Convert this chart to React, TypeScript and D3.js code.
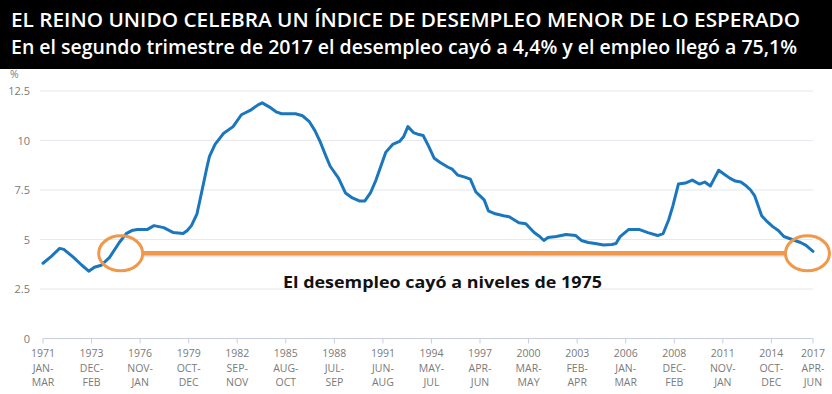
import React from "react";
import * as d3 from "d3";

// Month index counted from the Jan-Mar 1971 rolling quarter
const months = [0, 6, 12, 15, 22, 28, 33, 37, 42, 48, 55, 60, 64, 68, 75, 80, 87, 94, 101, 104, 107, 111, 115, 118, 120, 124, 130, 137, 143, 150, 155, 158, 163, 168, 172, 182, 187, 192, 196, 200, 204, 207, 213, 218, 223, 228, 232, 236, 240, 243, 247, 252, 257, 260, 263, 267, 271, 274, 278, 282, 286, 292, 295, 299, 304, 308, 312, 315, 318, 321, 326, 332, 336, 343, 348, 354, 358, 361, 364, 370, 377, 384, 388, 393, 398, 404, 410, 413, 416, 422, 430, 436, 443, 447, 451, 454, 458, 463, 468, 473, 477, 481, 484, 487, 491, 495, 499, 503, 507, 510, 513, 518, 522, 526, 530, 534, 538, 542, 546, 550, 555];
const rates = [3.8, 4.15, 4.55, 4.5, 4.1, 3.7, 3.4, 3.6, 3.7, 4.1, 4.85, 5.3, 5.45, 5.5, 5.5, 5.7, 5.6, 5.35, 5.3, 5.45, 5.7, 6.3, 7.6, 8.6, 9.2, 9.8, 10.35, 10.7, 11.3, 11.55, 11.8, 11.9, 11.7, 11.45, 11.35, 11.35, 11.25, 10.95, 10.5, 9.9, 9.2, 8.7, 8.1, 7.35, 7.1, 6.95, 6.95, 7.35, 8.0, 8.6, 9.4, 9.8, 9.95, 10.2, 10.7, 10.4, 10.3, 10.25, 9.7, 9.1, 8.9, 8.65, 8.55, 8.25, 8.15, 8.05, 7.4, 7.2, 7.0, 6.45, 6.3, 6.2, 6.15, 5.85, 5.8, 5.35, 5.15, 4.95, 5.1, 5.15, 5.25, 5.2, 4.95, 4.85, 4.8, 4.72, 4.75, 4.8, 5.15, 5.5, 5.5, 5.35, 5.2, 5.3, 6.0, 6.7, 7.8, 7.85, 8.0, 7.8, 7.9, 7.7, 8.1, 8.5, 8.3, 8.1, 7.95, 7.9, 7.7, 7.5, 7.2, 6.2, 5.9, 5.65, 5.45, 5.15, 5.05, 4.95, 4.85, 4.7, 4.4];

const tickMonths = [0, 35, 70, 105, 140, 175, 210, 245, 280, 315, 350, 385, 420, 455, 490, 525, 555];
const tickYears = ["1971", "1973", "1976", "1979", "1982", "1985", "1988", "1991", "1994", "1997", "2000", "2003", "2006", "2008", "2011", "2014", "2017"];
const tickStart = ["JAN-", "DEC-", "NOV-", "OCT-", "SEP-", "AUG-", "JUL-", "JUN-", "MAY-", "APR-", "MAR-", "FEB-", "JAN-", "DEC-", "NOV-", "OCT-", "APR-"];
const tickEnd = ["MAR", "FEB", "JAN", "DEC", "NOV", "OCT", "SEP", "AUG", "JUL", "JUN", "MAY", "APR", "MAR", "FEB", "JAN", "DEC", "JUN"];

const yTicks = [0, 2.5, 5, 7.5, 10, 12.5];
const yTickLabels = ["0", "2.5", "5", "7.5", "10", "12.5"];

// Annotation: level reached again (1975 vs 2017)
const annotationLevel = 4.3;
const annotationMonths = [56, 551];

const title = "EL REINO UNIDO CELEBRA UN ÍNDICE DE DESEMPLEO MENOR DE LO ESPERADO";
const subtitle = "En el segundo trimestre de 2017 el desempleo cayó a 4,4% y el empleo llegó a 75,1%";
const annotationText = "El desempleo cayó a niveles de 1975";

export default function App() {
  const W = 832;
  const H = 394;
  const x = d3.scaleLinear().domain([0, 555]).range([43, 813]);
  const y = d3.scaleLinear().domain([0, 12.5]).range([338.5, 91]);
  const data = months.map((m, i) => ({ m, v: rates[i] }));
  const line = d3
    .line<{ m: number; v: number }>()
    .x((d) => x(d.m))
    .y((d) => y(d.v))
    .curve(d3.curveLinear);

  const font = "'Open Sans', 'Noto Sans', sans-serif";
  const axisColor = "#7a7a7a";
  const orange = "#F0984B";
  const ly = y(annotationLevel);
  const lx0 = x(annotationMonths[0]);
  const lx1 = x(annotationMonths[1]);
  const rx = 22;
  const ry = 17.5;

  return (
    <svg
      width={W}
      height={H}
      style={{ position: "absolute", left: 0, top: 0, background: "#fff" }}
    >
      <rect x={0} y={0} width={W} height={H} fill="#fff" />
      <rect x={0} y={0} width={W} height={69} fill="#000" />
      <text
        x={11}
        y={27}
        fill="#fff"
        fontFamily={font}
        fontWeight={600}
        fontSize={19.5}
        textLength={789}
        lengthAdjust="spacingAndGlyphs"
      >
        {title}
      </text>
      <text
        x={11}
        y={53.5}
        fill="#fff"
        fontFamily={font}
        fontWeight={600}
        fontSize={19}
        textLength={786}
        lengthAdjust="spacingAndGlyphs"
      >
        {subtitle}
      </text>

      {/* gridlines */}
      {yTicks.slice(1).map((t) => (
        <line
          key={"g" + t}
          x1={40}
          x2={813}
          y1={y(t)}
          y2={y(t)}
          stroke="#e6e7ef"
          strokeWidth={1}
        />
      ))}
      {/* zero axis */}
      <line x1={43} x2={813} y1={y(0)} y2={y(0)} stroke="#c9cde0" strokeWidth={1} />
      {tickMonths.map((m) => (
        <line
          key={"t" + m}
          x1={x(m)}
          x2={x(m)}
          y1={y(0)}
          y2={y(0) + 5}
          stroke="#c9cde0"
          strokeWidth={1}
        />
      ))}

      {/* y labels */}
      <text x={10} y={78} fill={axisColor} fontFamily={font} fontSize={10.5}>
        %
      </text>
      {yTicks.map((t, i) => (
        <text
          key={"y" + t}
          x={30}
          y={y(t) + 4}
          textAnchor="end"
          fill={axisColor}
          fontFamily={font}
          fontSize={11}
        >
          {yTickLabels[i]}
        </text>
      ))}

      {/* x labels */}
      {tickMonths.map((m, i) => (
        <g key={"x" + m} fill={axisColor} fontFamily={font} fontSize={10.5} textAnchor="middle">
          <text x={x(m)} y={357}>{tickYears[i]}</text>
          <text x={x(m)} y={371.5}>{tickStart[i]}</text>
          <text x={x(m)} y={386}>{tickEnd[i]}</text>
        </g>
      ))}

      {/* series */}
      <path
        d={line(data) || ""}
        fill="none"
        stroke="#1b77bd"
        strokeWidth={3}
        strokeLinejoin="round"
        strokeLinecap="round"
      />

      {/* annotation */}
      <line
        x1={lx0 + rx}
        x2={lx1 - rx}
        y1={ly + 2.5}
        y2={ly + 2.5}
        stroke="#d9d9d9"
        strokeWidth={3}
        opacity={0.6}
      />
      <line
        x1={lx0 + rx}
        x2={lx1 - rx}
        y1={ly}
        y2={ly}
        stroke={orange}
        strokeWidth={4.5}
      />
      <ellipse cx={lx0} cy={ly} rx={rx} ry={ry} fill="none" stroke={orange} strokeWidth={3} />
      <ellipse cx={lx1} cy={ly} rx={rx} ry={ry} fill="none" stroke={orange} strokeWidth={3} />
      <text
        x={283}
        y={287.5}
        fill="#111"
        fontFamily={font}
        fontWeight={700}
        fontSize={16.5}
        textLength={319}
        lengthAdjust="spacingAndGlyphs"
      >
        {annotationText}
      </text>
    </svg>
  );
}
